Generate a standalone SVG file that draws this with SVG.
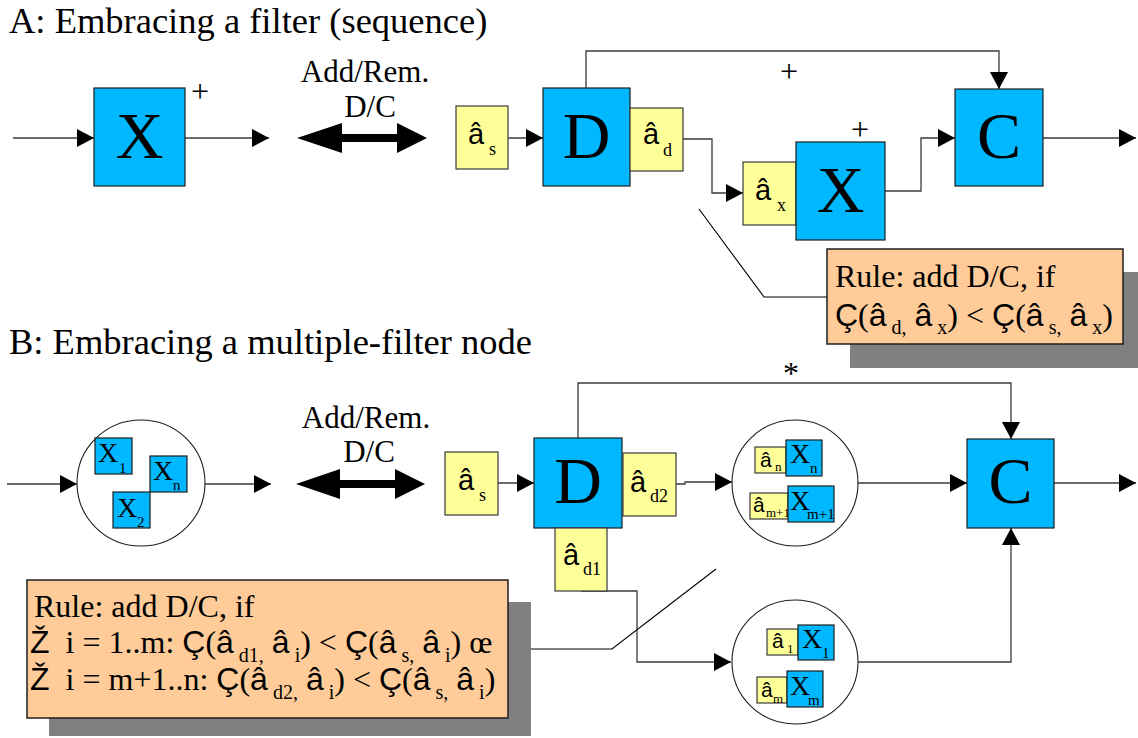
<svg xmlns="http://www.w3.org/2000/svg" width="1138" height="738" viewBox="0 0 1138 738">
<style>
.bg{fill:#ffffff}
.blue{fill:#00b8ff;stroke:#1e1e1e;stroke-width:1.2}
.yel{fill:#ffff99;stroke:#3a3a3a;stroke-width:1.2}
.rule{fill:#ffcc99;stroke:#1e1e1e;stroke-width:1.5}
.shadow{fill:#808080}
.conn{fill:none;stroke:#3a3a3a;stroke-width:1.3}
.call{fill:none;stroke:#000;stroke-width:1.1}
.circ{fill:#ffffff;stroke:#1e1e1e;stroke-width:1.1}
text{font-family:'Liberation Serif','Times New Roman',Times,serif;fill:#000}
.sa{font-family:'Liberation Sans',Arial,Helvetica,sans-serif}
.title{font-size:36.5px}
.lab{font-size:31px}
.big{font-size:66px;text-anchor:middle}
.mid{font-size:32px}
.a{font-size:29px}
.s{font-size:18px}
.rt{font-size:32px}
.sy{font-family:'Liberation Sans',Arial,Helvetica,sans-serif;font-size:32px}
.sb{font-size:20px}
.xs{font-size:28px}
.xsub{font-size:15px}
.as{font-size:21px}
.asub{font-size:13px}
</style>
<defs>
<marker id="ah" markerUnits="userSpaceOnUse" markerWidth="18" markerHeight="18" refX="17" refY="9" orient="auto">
<path d="M0,0 L17,9 L0,18 z" fill="#000"/>
</marker>
</defs>
<rect class="bg" x="0" y="0" width="1138" height="738"/>

<g id="titles">
<text class="title" x="9" y="33">A: Embracing a filter (sequence)</text>
<text class="title" x="9" y="354">B: Embracing a multiple-filter node</text>
</g>

<g id="connectors">
<line class="conn" x1="13" y1="138" x2="94" y2="138" marker-end="url(#ah)"/>
<line class="conn" x1="185" y1="138" x2="269" y2="138" marker-end="url(#ah)"/>
<line class="conn" x1="508" y1="138" x2="543" y2="138" marker-end="url(#ah)"/>
<path class="conn" d="M683,139 H712 V193 H743" marker-end="url(#ah)"/>
<path class="conn" d="M885,191 H921 V138 H955" marker-end="url(#ah)"/>
<path class="conn" d="M586,88 V51 H999 V89" marker-end="url(#ah)"/>
<line class="conn" x1="1043" y1="138" x2="1136" y2="138" marker-end="url(#ah)"/>
<polyline class="call" points="699,209 764,297 827,297"/>

<line class="conn" x1="7" y1="484" x2="77" y2="484" marker-end="url(#ah)"/>
<line class="conn" x1="205" y1="484" x2="271" y2="484" marker-end="url(#ah)"/>
<line class="conn" x1="498" y1="483" x2="534" y2="483" marker-end="url(#ah)"/>
<path class="conn" d="M676,484 H685 V482 H732" marker-end="url(#ah)"/>
<path class="conn" d="M578,438 V383 H1011 V439" marker-end="url(#ah)"/>
<line class="conn" x1="858" y1="483" x2="967" y2="483" marker-end="url(#ah)"/>
<line class="conn" x1="1054" y1="483" x2="1136" y2="483" marker-end="url(#ah)"/>
<path class="conn" d="M858,662 H1011 V528" marker-end="url(#ah)"/>
<path class="conn" d="M581,591 H637 V662 H731" marker-end="url(#ah)"/>
<polyline class="call" points="508,649 612,649 716,569"/>

<polygon id="dblA" fill="#000" points="297,138 342,123 342,134 397,134 397,123 427,138 397,153 397,142 342,142 342,153"/>
<polygon id="dblB" fill="#000" points="296,484 340,469 340,480 395,480 395,469 425,484 395,499 395,488 340,488 340,499"/>
</g>

<g id="labels">
<text class="lab" x="365" y="82" text-anchor="middle">Add/Rem.</text>
<text class="lab" x="370" y="117" text-anchor="middle">D/C</text>
<text class="lab" x="366" y="428" text-anchor="middle">Add/Rem.</text>
<text class="lab" x="369" y="462" text-anchor="middle">D/C</text>
<text class="mid" x="200" y="102" text-anchor="middle">+</text>
<text class="mid" x="789" y="82" text-anchor="middle">+</text>
<text class="mid" x="860" y="140" text-anchor="middle">+</text>
<text class="mid" x="791" y="384" text-anchor="middle">*</text>
</g>

<g id="nodeXA">
<rect class="blue" x="94" y="88" width="91" height="98"/>
<text class="big" x="139.5" y="158">X</text>
</g>
<g id="nodeAsA">
<rect class="yel" x="456" y="106" width="52" height="63"/>
<text class="sa a" x="468" y="144">â</text>
<text class="s" x="489" y="155">s</text>
</g>
<g id="nodeDA">
<rect class="blue" x="543" y="88" width="87" height="98"/>
<text class="big" x="586.5" y="158">D</text>
</g>
<g id="nodeAdA">
<rect class="yel" x="630" y="108" width="53" height="63"/>
<text class="sa a" x="643" y="144">â</text>
<text class="s" x="663" y="156">d</text>
</g>
<g id="nodeAxA">
<rect class="yel" x="743" y="162" width="53" height="63"/>
<text class="sa a" x="755" y="200">â</text>
<text class="s" x="777" y="211">x</text>
</g>
<g id="nodeX2A">
<rect class="blue" x="796" y="142" width="89" height="98"/>
<text class="big" x="840.5" y="212">X</text>
</g>
<g id="nodeCA">
<rect class="blue" x="955" y="89" width="88" height="97"/>
<text class="big" x="999" y="158">C</text>
</g>
<g id="ruleA">
<rect class="shadow" x="850" y="272" width="300" height="96"/>
<rect class="rule" x="827" y="249" width="296" height="95"/>
<text class="rt" x="835" y="287">Rule: add D/C, if</text>
<text class="rt" x="835" y="326" xml:space="preserve"><tspan class="sy">Ç</tspan>(<tspan class="sy">â</tspan><tspan class="sb" dy="8"> d,</tspan><tspan dy="-8"> </tspan><tspan class="sy">â</tspan><tspan class="sb" dy="8"> x</tspan><tspan dy="-8">) &lt; </tspan><tspan class="sy">Ç</tspan>(<tspan class="sy">â</tspan><tspan class="sb" dy="8"> s,</tspan><tspan dy="-8"> </tspan><tspan class="sy">â</tspan><tspan class="sb" dy="8"> x</tspan><tspan dy="-8">)</tspan></text>
</g>

<g id="nodeMultiL">
<ellipse class="circ" cx="141" cy="483" rx="64" ry="63"/>
<rect class="blue" x="95" y="438" width="37" height="36"/>
<text class="xs" x="98" y="462">X</text>
<text class="xsub" x="119" y="473">1</text>
<rect class="blue" x="150" y="456" width="37" height="36"/>
<text class="xs" x="153" y="480">X</text>
<text class="xsub" x="173" y="490">n</text>
<rect class="blue" x="113" y="492" width="37" height="36"/>
<text class="xs" x="117" y="517">X</text>
<text class="xsub" x="137" y="527">2</text>
</g>
<g id="nodeAsB">
<rect class="yel" x="445" y="452" width="53" height="63"/>
<text class="sa a" x="458" y="490">â</text>
<text class="s" x="479" y="501">s</text>
</g>
<g id="nodeDB">
<rect class="blue" x="534" y="438" width="88" height="90"/>
<text class="big" x="578" y="503">D</text>
</g>
<g id="nodeAd2B">
<rect class="yel" x="623" y="453" width="53" height="63"/>
<text class="sa a" x="630" y="492">â</text>
<text class="s" x="650" y="502">d2</text>
</g>
<g id="nodeAd1B">
<rect class="yel" x="555" y="528" width="52" height="63"/>
<text class="sa a" x="563" y="565">â</text>
<text class="s" x="583" y="575">d1</text>
</g>
<g id="nodeMultiUpper">
<ellipse class="circ" cx="795" cy="483" rx="63" ry="63"/>
<rect class="yel" x="755" y="447" width="31" height="26"/>
<text class="sa as" x="760" y="467">â</text>
<text class="asub" x="775" y="471">n</text>
<rect class="blue" x="786" y="440" width="36" height="36"/>
<text class="xs" x="790" y="463">X</text>
<text class="xsub" x="810" y="473">n</text>
<rect class="yel" x="750" y="493" width="38" height="26"/>
<text class="sa as" x="753" y="512">â</text>
<text class="asub" x="766" y="517">m+1</text>
<rect class="blue" x="788" y="486" width="46" height="36"/>
<text class="xs" x="790" y="510">X</text>
<text class="xsub" x="807" y="519">m+1</text>
</g>
<g id="nodeCB">
<rect class="blue" x="967" y="439" width="87" height="89"/>
<text class="big" x="1010.5" y="503">C</text>
</g>
<g id="nodeMultiLower">
<ellipse class="circ" cx="795" cy="662" rx="63" ry="62"/>
<rect class="yel" x="767" y="629" width="31" height="26"/>
<text class="sa as" x="772" y="648">â</text>
<text class="asub" x="787" y="653">1</text>
<rect class="blue" x="798" y="625" width="36" height="35"/>
<text class="xs" x="802" y="648">X</text>
<text class="xsub" x="822" y="658">1</text>
<rect class="yel" x="757" y="677" width="30" height="26"/>
<text class="sa as" x="761" y="697">â</text>
<text class="asub" x="773" y="703">m</text>
<rect class="blue" x="787" y="671" width="36" height="36"/>
<text class="xs" x="790" y="695">X</text>
<text class="xsub" x="808" y="705">m</text>
</g>
<g id="ruleB">
<rect class="shadow" x="49" y="602" width="482" height="134"/>
<rect class="rule" x="27" y="580" width="481" height="138"/>
<text class="rt" x="34" y="617">Rule: add D/C, if</text>
<text class="rt" x="30" y="653" xml:space="preserve"><tspan class="sy">Ž</tspan>  i = 1..m: <tspan class="sy">Ç</tspan>(<tspan class="sy">â</tspan><tspan class="sb" dy="9"> d1,</tspan><tspan dy="-9"> </tspan><tspan class="sy">â</tspan><tspan class="sb" dy="9"> i</tspan><tspan dy="-9">) &lt; </tspan><tspan class="sy">Ç</tspan>(<tspan class="sy">â</tspan><tspan class="sb" dy="9"> s,</tspan><tspan dy="-9"> </tspan><tspan class="sy">â</tspan><tspan class="sb" dy="9"> i</tspan><tspan dy="-9">) œ</tspan></text>
<text class="rt" x="30" y="690" xml:space="preserve"><tspan class="sy">Ž</tspan>  i = m+1..n: <tspan class="sy">Ç</tspan>(<tspan class="sy">â</tspan><tspan class="sb" dy="9"> d2,</tspan><tspan dy="-9"> </tspan><tspan class="sy">â</tspan><tspan class="sb" dy="9"> i</tspan><tspan dy="-9">) &lt; </tspan><tspan class="sy">Ç</tspan>(<tspan class="sy">â</tspan><tspan class="sb" dy="9"> s,</tspan><tspan dy="-9"> </tspan><tspan class="sy">â</tspan><tspan class="sb" dy="9"> i</tspan><tspan dy="-9">)</tspan></text>
</g>
</svg>
